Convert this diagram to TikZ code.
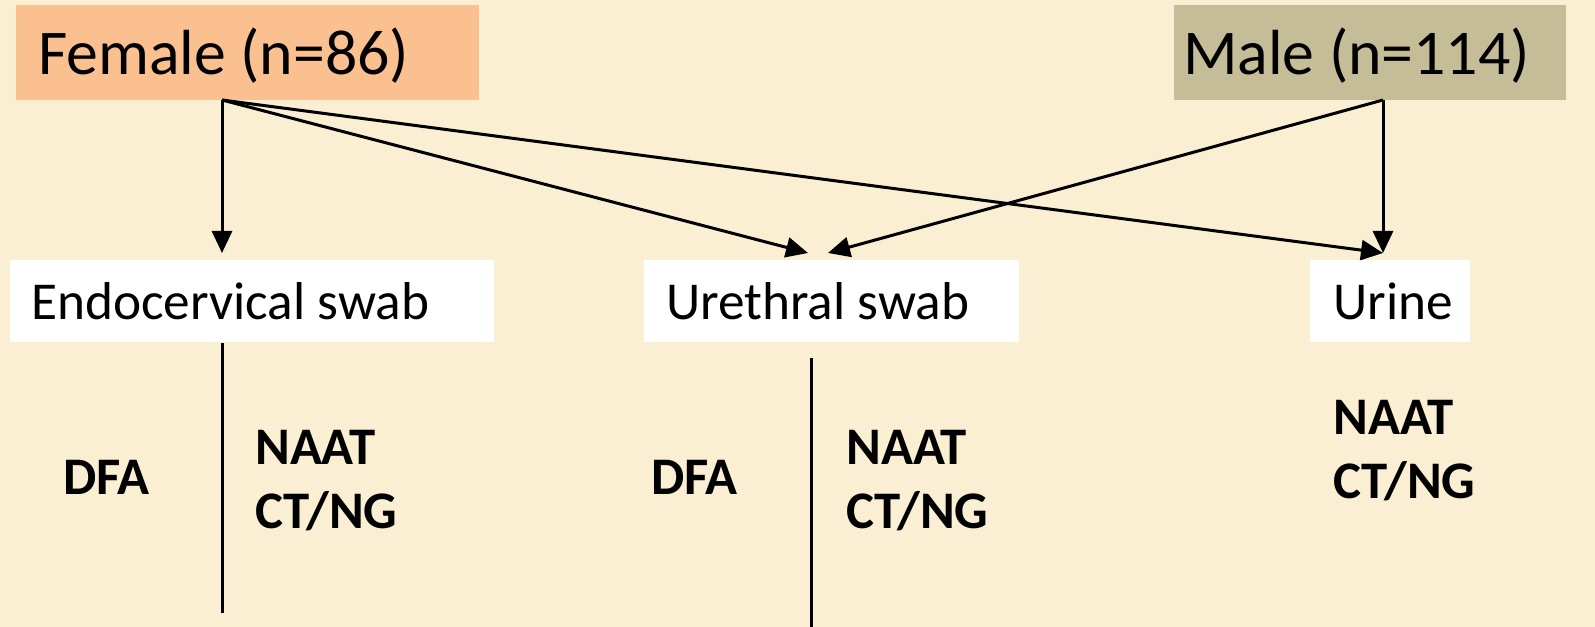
\documentclass[tikz,border=0pt]{standalone}
\usepackage{fontspec}
\setmainfont{Carlito}
\usetikzlibrary{arrows.meta}
\definecolor{parchment}{HTML}{FBEFD3}
\definecolor{femalefill}{HTML}{FAC090}
\definecolor{malefill}{HTML}{C4BD97}
\begin{document}
\begin{tikzpicture}[x=1bp,y=-1bp,
  panel/.style={inner sep=0pt, outer sep=0pt, anchor=north west},
  title/.style={inner sep=0pt, anchor=base west, font=\fontsize{64}{76}\selectfont},
  sample/.style={inner sep=0pt, anchor=base west, font=\fontsize{53.5}{64}\selectfont},
  testname/.style={inner sep=0pt, anchor=base west, font=\bfseries\fontsize{53}{62}\selectfont},
  link/.style={line width=3bp, -{Triangle[length=22bp,width=20bp]}},
  divider/.style={line width=3bp}]
  % page and background
  \fill[parchment] (0,0) rectangle (1595,627);
  \useasboundingbox (0,0) rectangle (1595,627);

  % patient groups
  \node[panel, fill=femalefill, minimum width=463bp, minimum height=95bp] (female) at (16,5) {};
  \node[title] (femaletxt) at (38,75) {Female (n=86)};
  \node[panel, fill=malefill, minimum width=392bp, minimum height=95bp] (male) at (1174,5) {};
  \node[title] (maletxt) at (1183,75) {Male (n=114)};

  % specimen types
  \node[panel, fill=white, minimum width=484bp, minimum height=82bp] (endo) at (10,260) {};
  \node[sample] (endotxt) at (31,319) {Endocervical swab};
  \node[panel, fill=white, minimum width=375bp, minimum height=82bp] (ureth) at (644,260) {};
  \node[sample] (urethtxt) at (666,319) {Urethral swab};
  \node[panel, fill=white, minimum width=160bp, minimum height=82bp] (urine) at (1310,260) {};
  \node[sample] (urinetxt) at (1333,319) {Urine};

  % arrow sources and targets
  \coordinate (fsrc) at (222,100);
  \coordinate (msrc) at (1383,100);
  \coordinate (endoin) at (222,253);
  \coordinate (urethinF) at (808,253);
  \coordinate (urethinM) at (828,253);
  \coordinate (urinein) at (1383,253);

  \draw[link] (fsrc) -- (endoin);
  \draw[link] (fsrc) -- (urethinF);
  \draw[link] (fsrc) -- (urinein);
  \draw[link] (msrc) -- (urethinM);
  \draw[link] (msrc) -- (urinein);

  % test split lines
  \coordinate (endocut) at (222,343);
  \coordinate (endocutend) at (222,613);
  \coordinate (urethcut) at (811,358);
  \coordinate (urethcutend) at (811,627);
  \draw[divider] (endocut) -- (endocutend);
  \draw[divider] (urethcut) -- (urethcutend);

  % tests
  \node[testname] (dfa1) at (63,494) {DFA};
  \node[testname] (naat1) at (255,464) {NAAT};
  \node[testname] (ctng1) at (255,528) {CT/NG};
  \node[testname] (dfa2) at (651,494) {DFA};
  \node[testname] (naat2) at (846,464) {NAAT};
  \node[testname] (ctng2) at (846,528) {CT/NG};
  \node[testname] (naat3) at (1333,434) {NAAT};
  \node[testname] (ctng3) at (1333,498) {CT/NG};
\end{tikzpicture}
\end{document}
